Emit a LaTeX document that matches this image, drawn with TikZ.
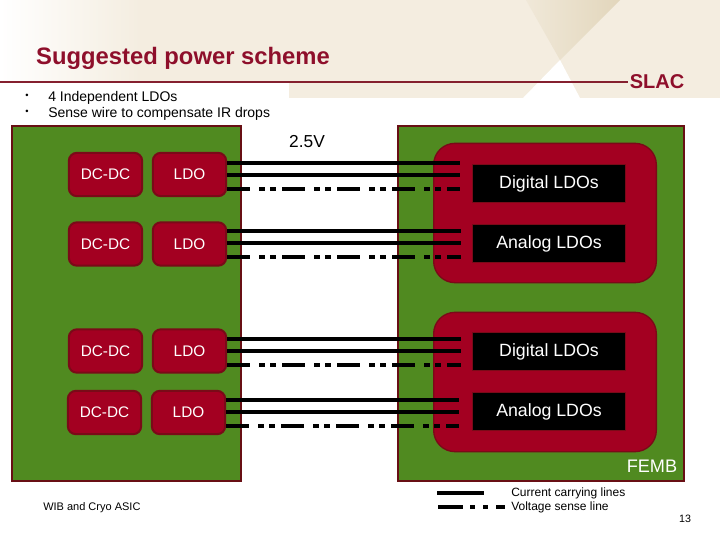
\documentclass[tikz,border=0pt]{standalone}
\usepackage{fontspec}
\setmainfont{Liberation Sans}
\definecolor{beige}{HTML}{F4EDE0}
\definecolor{wedgeL}{HTML}{F0E8D8}
\definecolor{wedgeR}{HTML}{E2D6BC}
\definecolor{pcb}{HTML}{508A20}
\definecolor{edge}{HTML}{680F14}
\definecolor{chip}{HTML}{A30021}
\definecolor{chipedge}{HTML}{7A0A18}
\definecolor{titlered}{HTML}{8E0F2B}
\definecolor{rulered}{HTML}{85202F}
\tikzset{
  x=0.75pt,y=-0.75pt,
  board/.style={draw=edge,line width=1.5pt,fill=pcb,minimum width=#1,minimum height=266.25pt,inner sep=0pt},
  group/.style={draw=chipedge,line width=1pt,fill=chip,rounded corners=16pt,minimum width=167pt,minimum height=104.5pt,inner sep=0pt},
  lowbox/.style={draw=chipedge,line width=1.5pt,fill=chip,rounded corners=6pt,minimum width=55pt,minimum height=32.5pt,inner sep=0pt,text=white,font=\fontsize{11.5pt}{13pt}\selectfont},
  blackbox/.style={draw=chipedge,line width=1pt,fill=black,minimum width=114.5pt,minimum height=28.5pt,inner sep=0pt,text=white,text height=0.72em,text depth=0pt,font=\fontsize{13.3pt}{15pt}\selectfont},
  wire/.style={line width=3pt,black},
  sense/.style={wire,dash pattern=on 17.25pt off 6.75pt on 4.5pt off 3.75pt on 4.5pt off 4.5pt},
  plain/.style={inner sep=0pt,anchor=west,font=\fontsize{10.5pt}{12pt}\selectfont},
  small/.style={inner sep=0pt,anchor=west,font=\fontsize{9pt}{10pt}\selectfont}
}
\begin{document}
\begin{tikzpicture}
\useasboundingbox (0,0) rectangle (720,540);
\fill[white] (0,0) rectangle (720,540);
% header artwork
\shade[left color=white,right color=beige,shading angle=90,draw=none] (0,0) rectangle (140,82);
\fill[beige] (139,0) rectangle (720,82);
\fill[beige] (289,82) rectangle (720,98);
\shade[left color=wedgeL,right color=wedgeR] (526,0) -- (620,0) -- (560,60) -- cycle;
\fill[white] (560,60) -- (580,98) -- (523,98) -- cycle;
\draw[rulered,line width=1.5pt] (0,82) -- (628,82);
\node[inner sep=0pt,text=titlered,font=\bfseries\fontsize{17.85pt}{20pt}\selectfont] (title) at (183,58) {Suggested power scheme};
\node[inner sep=0pt,text=titlered,font=\bfseries\fontsize{15pt}{18pt}\selectfont] (logo) at (657,82) {SLAC};
\node[inner sep=0pt,font=\fontsize{7pt}{8pt}\selectfont] (b1) at (27,96) {•};
\node[inner sep=0pt,font=\fontsize{7pt}{8pt}\selectfont] (b2) at (27,112) {•};
\node[plain] (t1) at (48,97.5) {4 Independent LDOs};
\node[plain] (t2) at (48,113.5) {Sense wire to compensate IR drops};
\node[inner sep=0pt,font=\fontsize{13pt}{15pt}\selectfont] (volt) at (307,142) {2.5V};
% boards
\node[board=171.75pt] (wib) at (126.5,303.5) {};
\node[board=214.5pt] (femb) at (541,303.5) {};
\node[group] (g1) at (545,213) {};
\node[group] (g2) at (545,382) {};
% chips
\node[lowbox] (dc1) at (105.5,174.5) {DC-DC};
\node[lowbox] (ldo1) at (189.5,174.5) {LDO};
\node[lowbox] (dc2) at (105.5,244) {DC-DC};
\node[lowbox] (ldo2) at (189.5,244) {LDO};
\node[lowbox] (dc3) at (105.5,351) {DC-DC};
\node[lowbox] (ldo3) at (189.5,351) {LDO};
\node[lowbox] (dc4) at (104.5,412.5) {DC-DC};
\node[lowbox] (ldo4) at (188.5,412.5) {LDO};
\node[blackbox] (d1) at (549,183.5) {Digital LDOs};
\node[blackbox] (a1) at (549,243.5) {Analog LDOs};
\node[blackbox] (d2) at (549,351.5) {Digital LDOs};
\node[blackbox] (a2) at (549,411.5) {Analog LDOs};
\node[inner sep=0pt,text=white,font=\fontsize{13.6pt}{15pt}\selectfont] (femblabel) at (652,466) {FEMB};
% wire ends
\coordinate (e1a) at (460,163);\coordinate (e1b) at (460,175);\coordinate (e1c) at (460,189);
\coordinate (e2a) at (461,231);\coordinate (e2b) at (461,243);\coordinate (e2c) at (461,257);
\coordinate (e3a) at (461,339);\coordinate (e3b) at (461,351);\coordinate (e3c) at (461,365);
\coordinate (e4a) at (459,400);\coordinate (e4b) at (459,412);\coordinate (e4c) at (459,426);
\draw[wire] (ldo1.east |- e1a) -- (e1a);
\draw[wire] (ldo1.east |- e1b) -- (e1b);
\draw[sense] (ldo1.east |- e1c) -- (e1c);
\draw[wire] (ldo2.east |- e2a) -- (e2a);
\draw[wire] (ldo2.east |- e2b) -- (e2b);
\draw[sense] (ldo2.east |- e2c) -- (e2c);
\draw[wire] (ldo3.east |- e3a) -- (e3a);
\draw[wire] (ldo3.east |- e3b) -- (e3b);
\draw[sense] (ldo3.east |- e3c) -- (e3c);
\draw[wire] (ldo4.east |- e4a) -- (e4a);
\draw[wire] (ldo4.east |- e4b) -- (e4b);
\draw[sense] (ldo4.east |- e4c) -- (e4c);
% legend
\coordinate (la) at (437,493);\coordinate (lb) at (484,493);
\coordinate (lc) at (438,507);\coordinate (ld) at (505,507);
\draw[wire] (la) -- (lb);
\draw[wire,dash pattern=on 18.75pt off 5.25pt on 3.75pt off 6pt on 3.75pt off 6pt] (lc) -- (ld);
\node[small] (l1) at (511,493.5) {Current carrying lines};
\node[small] (l2) at (511,507.5) {Voltage sense line};
\node[inner sep=0pt,anchor=west,font=\fontsize{8.25pt}{10pt}\selectfont] (wibl) at (43,508) {WIB and Cryo ASIC};
\node[inner sep=0pt,font=\fontsize{8pt}{10pt}\selectfont] (page) at (685,519) {13};
\end{tikzpicture}
\end{document}
